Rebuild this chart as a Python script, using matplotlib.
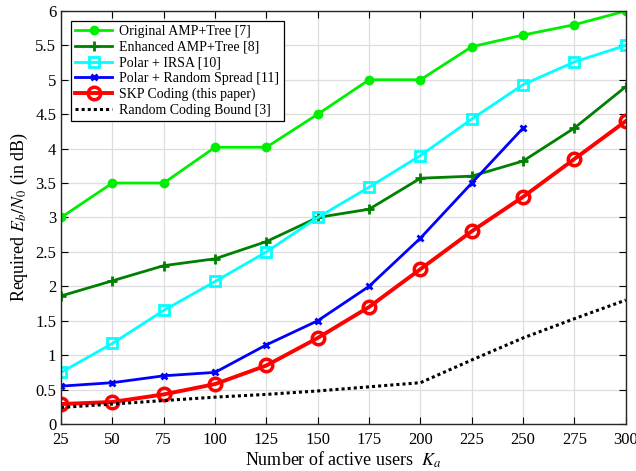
import matplotlib
matplotlib.use("Agg")
import matplotlib.pyplot as plt

plt.rcParams['font.family'] = ['Liberation Serif', 'DejaVu Serif']
plt.rcParams['mathtext.fontset'] = 'stix'

K = [25, 50, 75, 100, 125, 150, 175, 200, 225, 250, 275, 300]
K_polar_rand = [25, 50, 75, 100, 125, 150, 175, 200, 225, 250]

orig_amp = [3.0, 3.5, 3.5, 4.02, 4.02, 4.5, 5.0, 5.0, 5.48, 5.65, 5.8, 6.0]
enh_amp = [1.86, 2.08, 2.3, 2.4, 2.65, 3.0, 3.12, 3.57, 3.6, 3.82, 4.3, 4.9]
polar_irsa = [0.75, 1.17, 1.65, 2.07, 2.5, 3.0, 3.44, 3.9, 4.43, 4.93, 5.26, 5.5]
polar_rand = [0.55, 0.6, 0.7, 0.75, 1.15, 1.5, 2.0, 2.7, 3.5, 4.3]
skp = [0.29, 0.32, 0.43, 0.58, 0.85, 1.25, 1.7, 2.25, 2.8, 3.3, 3.85, 4.4]
rcb = [0.24, 0.29, 0.34, 0.39, 0.43, 0.48, 0.54, 0.6, 0.93, 1.25, 1.53, 1.8]

labels = ['Original AMP+Tree [7]', 'Enhanced AMP+Tree [8]', 'Polar + IRSA [10]',
          'Polar + Random Spread [11]', 'SKP Coding (this paper)', 'Random Coding Bound [3]']

fig = plt.figure(figsize=(6.36, 4.71), dpi=100)
ax = fig.add_axes([0.096, 0.0998, 0.888, 0.877])

ax.plot(K, orig_amp, color='#00ee00', lw=2, marker='o', ms=6, label=labels[0])
ax.plot(K, enh_amp, color='#008000', lw=2, marker='+', ms=7, mew=2, label=labels[1])
ax.plot(K, polar_irsa, color='cyan', lw=2, marker='s', ms=7, mfc='none', mew=2, label=labels[2])
ax.plot(K_polar_rand, polar_rand, color='blue', lw=2, marker='x', ms=5, mew=2, label=labels[3])
ax.plot(K, skp, color='red', lw=2.8, marker='o', ms=9, mfc='none', mew=2.5, label=labels[4])
ax.plot(K, rcb, color='black', lw=2.2, ls=(0, (1, 1)), label=labels[5])

ax.set_xlim(25, 300)
ax.set_ylim(0, 6)
ax.set_xticks(K)
ax.set_yticks([0, 0.5, 1, 1.5, 2, 2.5, 3, 3.5, 4, 4.5, 5, 5.5, 6])
ax.set_yticklabels(['0', '0.5', '1', '1.5', '2', '2.5', '3', '3.5', '4', '4.5', '5', '5.5', '6'])
ax.tick_params(direction='in', labelsize=12, top=True, right=True, length=5)
ax.tick_params(axis='x', pad=6)
ax.grid(True, color='#dddddd', lw=0.9)
for s in ax.spines.values():
    s.set_linewidth(1.0)
    s.set_color('#262626')

ax.set_xlabel(r'Number of active users  $K_a$', fontsize=13, labelpad=1)
ax.set_ylabel(r'Required $E_b/N_0$ (in dB)', fontsize=13, labelpad=4)

leg = ax.legend(loc='upper left', fontsize=10, frameon=True,
                fancybox=False, edgecolor='black', framealpha=1, borderpad=0.3,
                labelspacing=0.2, handlelength=2.7, handletextpad=0.5, borderaxespad=0.7)
leg.get_frame().set_linewidth(0.9)

fig.savefig('out.png', dpi=100)
